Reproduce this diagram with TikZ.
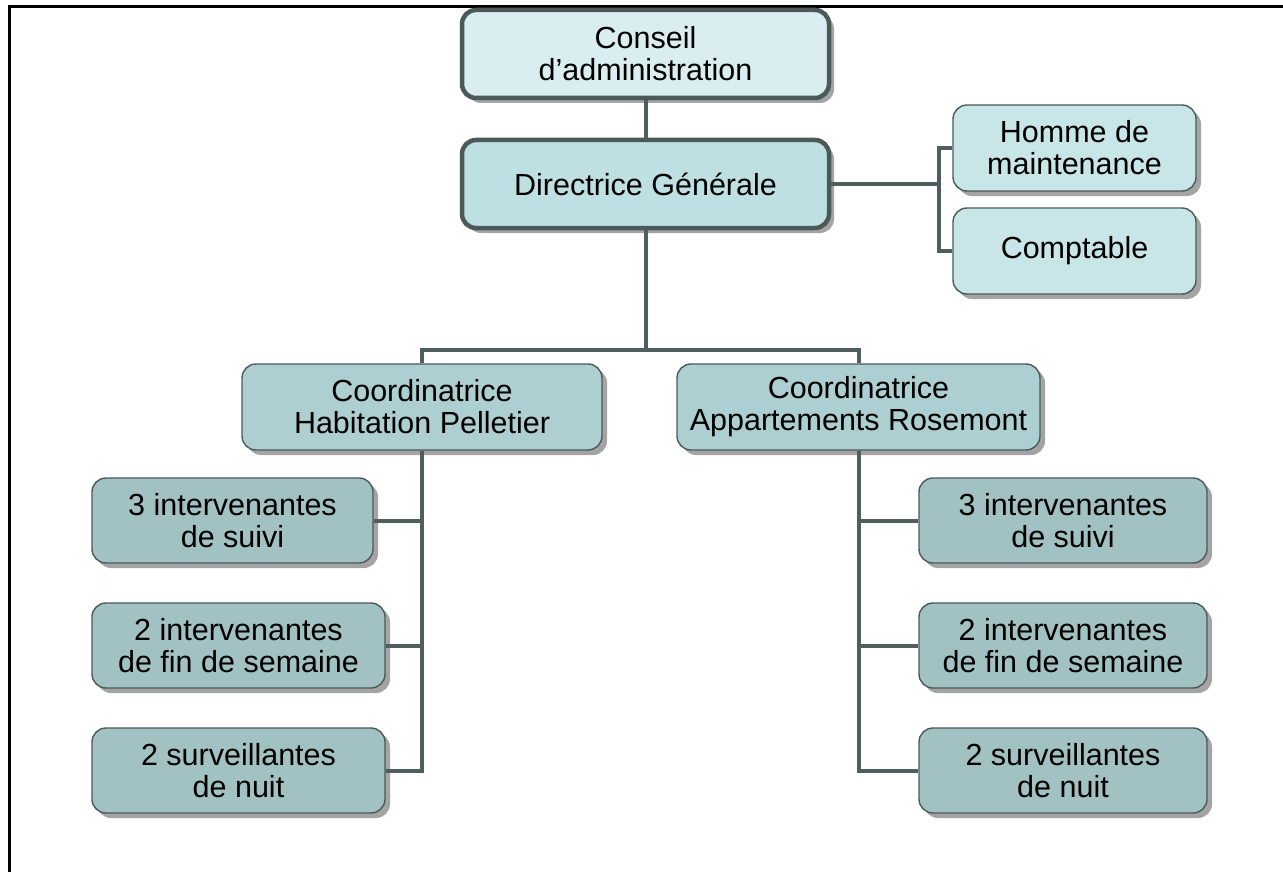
\documentclass[tikz,border=0pt]{standalone}
\usepackage{fontspec}
\setmainfont{Liberation Sans}
\usetikzlibrary{shadows}
\definecolor{fillA}{HTML}{DAEEF1}
\definecolor{fillB}{HTML}{BEE0E3}
\definecolor{fillC}{HTML}{C8E6E8}
\definecolor{fillD}{HTML}{ADCFD1}
\definecolor{fillE}{HTML}{A2C1C2}
\definecolor{bordc}{HTML}{4B5959}
\definecolor{linec}{HTML}{4F5E5E}
\definecolor{shadc}{HTML}{A4A4A4}
\begin{document}
\begin{tikzpicture}[x=1pt,y=-1pt,
  box/.style={draw=bordc, line width=1.4pt, rounded corners=14pt, align=center,
    font=\fontsize{30.5}{32}\selectfont, inner sep=0pt,
    drop shadow={shadow xshift=5pt,shadow yshift=-5pt,fill=shadc,opacity=1}},
  heavybox/.style={box, line width=4.5pt},
  conn/.style={draw=linec, line width=4pt}
]
\useasboundingbox (0,0) rectangle (1283,872);
\draw[line width=2.5pt, black] (9.3,872) -- (9.3,6.7) -- (1283,6.7);

\node[heavybox, fill=fillA, minimum width=367pt, minimum height=88pt] (conseil) at (645.5,54) {Conseil\\d’administration};
\node[heavybox, fill=fillB, minimum width=367pt, minimum height=88pt] (direct) at (645.5,184) {Directrice Générale};
\node[box, fill=fillC, minimum width=243pt, minimum height=86pt] (homme) at (1074.5,148) {Homme de\\maintenance};
\node[box, fill=fillC, minimum width=243pt, minimum height=86pt] (compt) at (1074.5,251) {Comptable};
\node[box, fill=fillD, minimum width=360pt, minimum height=86pt] (coordA) at (422,407) {Coordinatrice\\Habitation Pelletier};
\node[box, fill=fillD, minimum width=363pt, minimum height=86pt] (coordB) at (858.5,407) {Coordinatrice\\Appartements Rosemont};

\node[box, fill=fillE, minimum width=281pt, minimum height=85pt] (l1) at (232.5,520.5) {3 intervenantes\\de suivi};
\node[box, fill=fillE, minimum width=293pt, minimum height=85pt] (l2) at (238.5,645.5) {2 intervenantes\\de fin de semaine};
\node[box, fill=fillE, minimum width=293pt, minimum height=85pt] (l3) at (238.5,770.5) {2 surveillantes\\de nuit};
\node[box, fill=fillE, minimum width=288pt, minimum height=85pt] (r1) at (1063,520.5) {3 intervenantes\\de suivi};
\node[box, fill=fillE, minimum width=288pt, minimum height=85pt] (r2) at (1063,645.5) {2 intervenantes\\de fin de semaine};
\node[box, fill=fillE, minimum width=288pt, minimum height=85pt] (r3) at (1063,770.5) {2 surveillantes\\de nuit};

% connectors
\draw[conn] (conseil.south) -- (direct.north);
\draw[conn] (direct.east) -- ++(108,0) coordinate (rj);
\draw[conn] (homme.west) -| (rj) |- (compt.west);
\coordinate (hub) at (direct.south |- 0,350);
\draw[conn] (direct.south) -- (hub);
\draw[conn] (coordA.north) |- (hub) -| (coordB.north);
\draw[conn] (coordA.south) |- (l3.east);
\draw[conn] (l1.east) -- (l1.east -| coordA.south);
\draw[conn] (l2.east) -- (l2.east -| coordA.south);
\draw[conn] (coordB.south) |- (r3.west);
\draw[conn] (r1.west) -- (r1.west -| coordB.south);
\draw[conn] (r2.west) -- (r2.west -| coordB.south);
\end{tikzpicture}
\end{document}
